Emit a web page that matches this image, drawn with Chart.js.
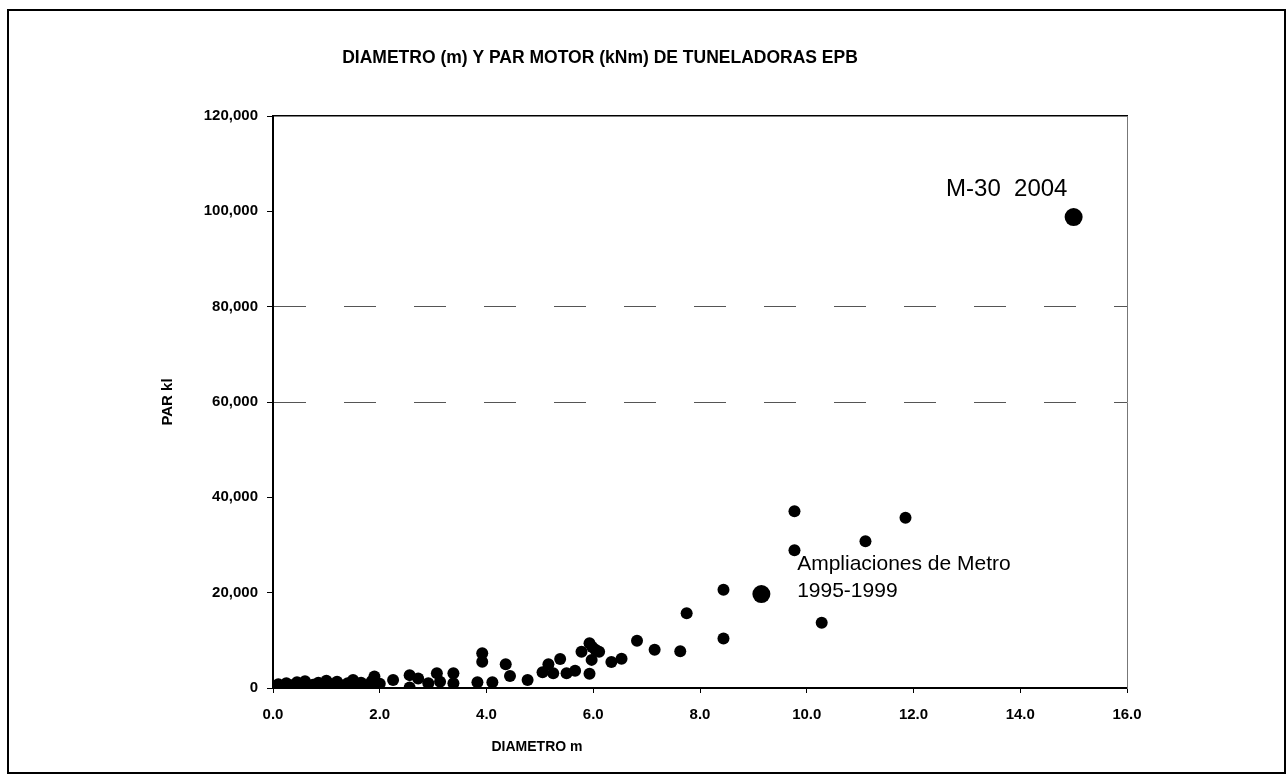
<!DOCTYPE html>
<html>
<head>
<meta charset="utf-8">
<script src="https://cdn.jsdelivr.net/npm/chart.js@4.4.1/dist/chart.umd.min.js"></script>
<style>
  html, body { margin: 0; padding: 0; background: #fff; }
  #wrap { position: relative; width: 1286px; height: 780px; }
  #wrap canvas { position: absolute; left: 0; top: 0; }
  #frame { position: absolute; left: 7px; top: 9px; width: 1275px; height: 761px; border: 2px solid #000; pointer-events: none; }
</style>
</head>
<body>
<div id="wrap">
  <canvas id="chart" width="1286" height="780"></canvas>
  <div id="frame"></div>
</div>
<script>
// diameter (m) / torque (kNm) of the EPB machines
const diameters = [
  0.05, 0.1, 0.2, 0.25, 0.35, 0.45, 0.55, 0.6, 0.75, 0.85, 0.95, 1.0,
  1.1, 1.2, 1.3, 1.4, 1.5, 1.55, 1.65, 1.75, 1.85, 1.9, 1.95, 2.0,
  2.25, 2.56, 2.56, 2.72, 2.91, 3.07, 3.13, 3.38, 3.38,
  3.83, 3.92, 3.92, 4.11, 4.36, 4.44, 4.77,
  5.05, 5.16, 5.25, 5.38, 5.50, 5.66, 5.78, 5.93, 5.98, 6.11, 6.04, 5.97, 5.93,
  6.34, 6.53, 6.82, 7.15, 7.63, 7.75, 8.44, 8.44, 9.77, 9.77, 10.28, 11.10, 11.85
];
const torques = [
  300, 800, 400, 1000, 600, 1200, 500, 1400, 700, 1100, 400, 1500,
  800, 1300, 500, 1000, 1700, 400, 1100, 600, 1400, 2400, 300, 900,
  1700, 2700, 100, 2000, 1000, 3100, 1300, 3100, 1000,
  1200, 7300, 5500, 1200, 5000, 2500, 1700,
  3300, 5000, 3100, 6100, 3100, 3600, 7600, 9400, 8600, 7600, 8000, 5900, 3000,
  5450, 6150, 9900, 8000, 7700, 15700, 20600, 10400, 37100, 28900, 13700, 30800, 35700
];

// highlighted machines (drawn larger)
const bigDiameters = [9.15, 15.0];
const bigTorques = [19700, 98800];

const chartTitle = 'DIAMETRO (m) Y PAR MOTOR (kNm) DE TUNELADORAS EPB';
const xTitle = 'DIAMETRO m';
const yTitle = 'PAR kl';

// text notes anchored on data values
const noteLabels = [['M-30  2004'], ['Ampliaciones de Metro', '1995-1999']];
const noteX = [12.61, 9.82];
const noteY = [103200, 24750];

const FONT = '"Liberation Sans", Arial, sans-serif';

const toPoints = (xs, ys) => xs.map((d, i) => ({ x: d, y: ys[i] }));

const textPlugin = {
  id: 'texts',
  afterDraw(chart) {
    const { ctx, scales: { x, y } } = chart;
    ctx.save();
    ctx.fillStyle = '#000';
    ctx.textAlign = 'center';
    ctx.textBaseline = 'middle';
    ctx.font = 'bold 17.5px ' + FONT;
    ctx.fillText(chartTitle, 600, 58);
    ctx.font = 'bold 14px ' + FONT;
    ctx.fillText(xTitle, 537, 747);

    ctx.textAlign = 'left';
    ctx.textBaseline = 'alphabetic';
    const fonts = ['24px ' + FONT, '21px ' + FONT];
    noteLabels.forEach((lines, i) => {
      ctx.font = fonts[i];
      const px = x.getPixelForValue(noteX[i]);
      const py = y.getPixelForValue(noteY[i]);
      lines.forEach((line, j) => ctx.fillText(line, px, py + j * 27));
    });
    ctx.restore();
  }
};

const tickFont = { family: FONT, size: 15, weight: 'bold' };

new Chart(document.getElementById('chart'), {
  type: 'scatter',
  data: {
    datasets: [
      {
        data: toPoints(diameters, torques),
        backgroundColor: '#000',
        borderWidth: 0,
        pointRadius: 6,
        pointHoverRadius: 6
      },
      {
        data: toPoints(bigDiameters, bigTorques),
        backgroundColor: '#000',
        borderWidth: 0,
        pointRadius: 9,
        pointHoverRadius: 9
      }
    ]
  },
  options: {
    responsive: false,
    animation: false,
    devicePixelRatio: 1,
    layout: { padding: { top: 116, right: 159, bottom: 0, left: 0 } },
    plugins: {
      legend: { display: false },
      tooltip: { enabled: false }
    },
    scales: {
      x: {
        type: 'linear',
        position: 'bottom',
        min: 0,
        max: 16,
        ticks: {
          stepSize: 2,
          padding: 13,
          color: '#000',
          font: tickFont,
          maxRotation: 0,
          callback: v => v.toFixed(1)
        },
        grid: { drawOnChartArea: false, tickLength: 5, tickColor: '#000' },
        border: { color: '#000', width: 2 },
        afterFit: s => { s.height = 92; }
      },
      x2: {
        type: 'linear',
        position: 'top',
        min: 0,
        max: 16,
        ticks: { display: false },
        grid: { display: false },
        border: { color: '#000', width: 1.5 },
        afterFit: s => { s.height = 0; }
      },
      y: {
        min: 0,
        max: 120000,
        ticks: {
          stepSize: 20000,
          padding: 9,
          color: '#000',
          font: tickFont,
          callback: v => v.toLocaleString('en-US')
        },
        grid: {
          color: c => (c.tick && (c.tick.value === 60000 || c.tick.value === 80000)) ? '#555' : 'rgba(0,0,0,0)',
          tickColor: '#000',
          tickLength: 6,
          lineWidth: 1
        },
        border: { color: '#000', width: 2, dash: [32, 38] },
        title: {
          display: true,
          text: yTitle,
          color: '#000',
          font: { family: FONT, size: 15, weight: 'bold' },
          padding: { top: 159, bottom: 0 }
        },
        afterFit: s => { s.width = 273; }
      },
      y2: {
        position: 'right',
        min: 0,
        max: 120000,
        ticks: { display: false },
        grid: { display: false },
        border: { color: '#777', width: 1 },
        afterFit: s => { s.width = 0; }
      }
    }
  },
  plugins: [textPlugin]
});
</script>
</body>
</html>
